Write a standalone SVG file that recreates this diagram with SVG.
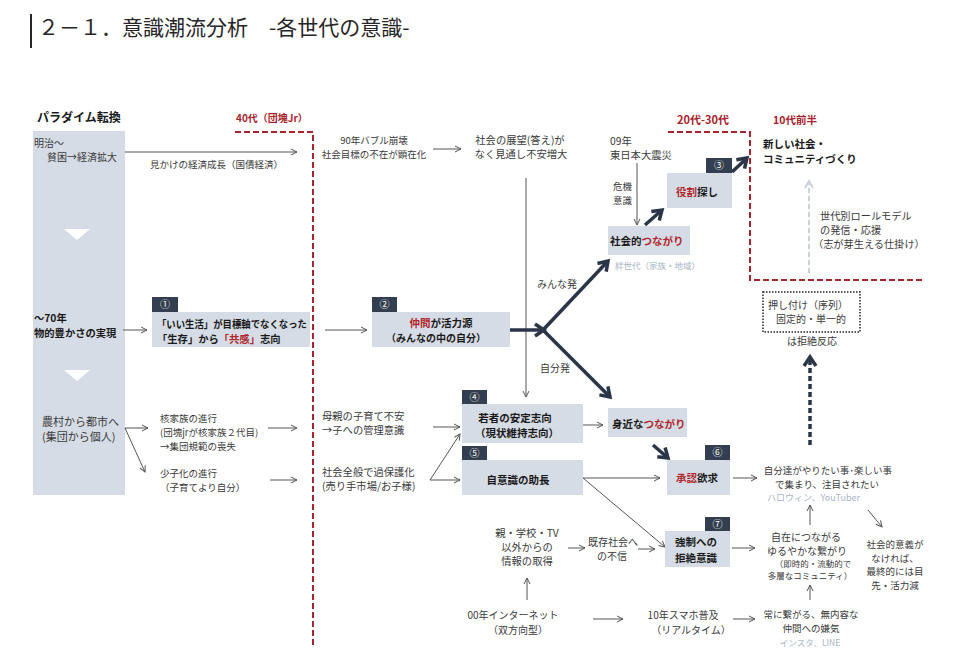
<svg xmlns="http://www.w3.org/2000/svg" width="960" height="655" viewBox="0 0 960 655">
<style>
text{font-family:"Noto Sans CJK JP","Noto Sans",sans-serif;font-size:10px;fill:#3a3a3a}
.b{font-weight:700;fill:#1a1a1a}
.r{fill:#b0282d}
.rh{font-weight:700;fill:#a8232a}
.lt{fill:#a9b5c7;font-size:8.5px}
.m{text-anchor:middle}
.box{fill:#d6dce5}
.tab{fill:#333f50}
.tabt{fill:#fff;font-size:10px;text-anchor:middle}
.ln{stroke:#555;stroke-width:1;fill:none}
.thick{stroke:#2b3548;stroke-width:3.5;fill:none}
.reddash{stroke:#a8232a;stroke-width:2;stroke-dasharray:6 3;fill:none}
</style>
<defs>
<marker id="ah" markerWidth="8" markerHeight="8" refX="7" refY="4" orient="auto" markerUnits="userSpaceOnUse"><path d="M1,1 L7,4 L1,7" fill="none" stroke="#555" stroke-width="1"/></marker>
<marker id="th" markerWidth="16" markerHeight="16" refX="12" refY="8" orient="auto" markerUnits="userSpaceOnUse"><path d="M3,2 L12,8 L3,14" fill="none" stroke="#2b3548" stroke-width="3.5"/></marker>
<marker id="lh" markerWidth="12" markerHeight="12" refX="9" refY="6" orient="auto" markerUnits="userSpaceOnUse"><path d="M2,2 L9,6 L2,10" fill="none" stroke="#ccd2dc" stroke-width="2"/></marker>
</defs>

<g id="title">
<rect x="30" y="14" width="2" height="34" fill="#262626"/>
<text x="38" y="35" style="font-size:21px;fill:#262626">２－１．意識潮流分析　-各世代の意識-</text>
</g>

<g id="generations">
<text x="236" y="122" class="rh" style="font-size:10px">40代（団塊Jr）</text>
<text x="677" y="124" class="rh" style="font-size:11px">20代-30代</text>
<text x="773" y="124" class="rh" style="font-size:10.5px">10代前半</text>
<path class="reddash" d="M235,132 L313,132 L313,645"/>
<path class="reddash" d="M668,132 L750,132 L750,280 L923,280"/>
</g>

<g id="paradigm">
<text x="37" y="122" class="b" style="font-size:12px">パラダイム転換</text>
<rect class="box" x="33" y="131" width="92" height="364"/>
<text x="34" y="147">明治～</text>
<text x="47" y="161">貧困→経済拡大</text>
<polygon points="64,229 90,229 77,240" fill="#fff"/>
<polygon points="64,370 90,370 77,381" fill="#fff"/>
<text x="34" y="322" class="b" style="font-size:10.3px">～70年</text>
<text x="34" y="337" class="b" style="font-size:10.3px">物的豊かさの実現</text>
<text x="42" y="426" style="font-size:11px">農村から都市へ</text>
<text x="42" y="441" style="font-size:11px">(集団から個人)</text>
</g>

<g id="connectors">
<path class="ln" d="M125,152 L297,152" marker-end="url(#ah)"/>
<path class="ln" d="M123,330 L147,330" marker-end="url(#ah)"/>
<path class="ln" d="M325,330 L367,330" marker-end="url(#ah)"/>
<path class="ln" d="M125,428 L148,428" marker-end="url(#ah)"/>
<path class="ln" d="M125,428 L145,472" marker-end="url(#ah)"/>
<path class="ln" d="M268,428 L297,428" marker-end="url(#ah)"/>
<path class="ln" d="M270,480 L297,480" marker-end="url(#ah)"/>
<path class="ln" d="M433,149 L461,149" marker-end="url(#ah)"/>
<path class="ln" d="M526,178 L526,397" marker-end="url(#ah)"/>
<path class="ln" d="M637,163 L637,225" marker-end="url(#ah)"/>
<path class="ln" d="M433,427 L460,427" marker-end="url(#ah)"/>
<path class="ln" d="M430,480 L460,480" marker-end="url(#ah)"/>
<path class="ln" d="M430,480 L460,434" marker-end="url(#ah)"/>
<path class="ln" d="M583,425 L603,425" marker-end="url(#ah)"/>
<path class="ln" d="M583,478 L660,478" marker-end="url(#ah)"/>
<path class="ln" d="M583,478 L665,547" marker-end="url(#ah)"/>
<path class="ln" d="M733,478 L757,478" marker-end="url(#ah)"/>
<path class="ln" d="M810,525 L810,505" marker-end="url(#ah)"/>
<path class="ln" d="M868,510 L882,527" marker-end="url(#ah)"/>
<path class="ln" d="M568,548 L585,548" marker-end="url(#ah)"/>
<path class="ln" d="M638,549 L655,549" marker-end="url(#ah)"/>
<path class="ln" d="M732,548 L755,548" marker-end="url(#ah)"/>
<path class="ln" d="M810,600 L810,585" marker-end="url(#ah)"/>
<path class="ln" d="M527,600 L527,578" marker-end="url(#ah)"/>
<path class="ln" d="M593,619 L623,619" marker-end="url(#ah)"/>
<path class="ln" d="M733,619 L755,619" marker-end="url(#ah)"/>
<path class="thick" d="M510,330 L544,330" marker-end="url(#th)"/>
<path class="thick" d="M543,330 L608,261" marker-end="url(#th)"/>
<path class="thick" d="M543,330 L610,397" marker-end="url(#th)"/>
<path class="thick" d="M645,225 L662,210" marker-end="url(#th)"/>
<path class="thick" d="M732,172 L747,158" marker-end="url(#th)"/>
<path class="thick" d="M653,445 L668,458" marker-end="url(#th)"/>
<path class="thick" d="M810,445 L810,357" stroke-width="3" stroke-dasharray="5 3" marker-end="url(#th)"/>
<path d="M809,273 L809,181" stroke="#ccd2dc" stroke-width="2" stroke-dasharray="5 3" fill="none" marker-end="url(#lh)"/>
</g>

<g id="labels">
<text x="150" y="168" style="font-size:9.5px">見かけの経済成長（国債経済）</text>
<text x="374" y="144" class="m" style="font-size:9.5px">90年バブル崩壊</text>
<text x="374" y="158" class="m" style="font-size:9.5px">社会目標の不在が顕在化</text>
<text x="520" y="144" class="m" style="font-size:10.3px">社会の展望(答え)が</text>
<text x="521" y="158" class="m" style="font-size:10.3px">なく見通し不安増大</text>
<text x="160" y="422" style="font-size:9.5px">核家族の進行</text>
<text x="160" y="436" style="font-size:9.5px">(団塊jrが核家族２代目)</text>
<text x="160" y="450" style="font-size:9.5px">→集団規範の喪失</text>
<text x="160" y="477" style="font-size:9.5px">少子化の進行</text>
<text x="160" y="491" style="font-size:9.5px">（子育てより自分）</text>
<text x="322" y="420" style="font-size:10.3px">母親の子育て不安</text>
<text x="322" y="434" style="font-size:10.3px">→子への管理意識</text>
<text x="322" y="476" style="font-size:10.3px">社会全般で過保護化</text>
<text x="322" y="490" style="font-size:10.3px">(売り手市場/お子様)</text>
<text x="537" y="288">みんな発</text>
<text x="540" y="372">自分発</text>
<text x="610" y="145" style="font-size:10.3px">09年</text>
<text x="610" y="159" style="font-size:10.3px">東日本大震災</text>
<text x="613" y="190" style="font-size:9.5px">危機</text>
<text x="613" y="204" style="font-size:9.5px">意識</text>
<text x="615" y="269" class="lt">絆世代（家族・地域）</text>
<text x="763" y="148" class="b" style="font-size:10.5px">新しい社会・</text>
<text x="763" y="163" class="b" style="font-size:10.5px">コミュニティづくり</text>
<text x="820" y="220" style="font-size:10.2px">世代別ロールモデル</text>
<text x="820" y="234" style="font-size:10.2px">の発信・応援</text>
<text x="813" y="248" style="font-size:10.2px">（志が芽生える仕掛け）</text>
<text x="812" y="345" class="m">は拒絶反応</text>
<text x="828" y="474" class="m" style="font-size:9.5px">自分達がやりたい事･楽しい事</text>
<text x="827" y="488" class="m" style="font-size:9.5px">で集まり、注目されたい</text>
<text x="767" y="501" class="lt" style="font-size:9px">ハロウィン、YouTuber</text>
<text x="527" y="537" class="m" style="font-size:10.3px">親・学校・TV</text>
<text x="527" y="551" class="m" style="font-size:10.3px">以外からの</text>
<text x="527" y="565" class="m" style="font-size:10.3px">情報の取得</text>
<text x="613" y="546" class="m">既存社会へ</text>
<text x="612" y="560" class="m">の不信</text>
<text x="806" y="541" class="m">自在につながる</text>
<text x="807" y="555" class="m">ゆるやかな繋がり</text>
<text x="813" y="567" class="m" style="font-size:8.5px">（即時的・流動的で</text>
<text x="810" y="579" class="m" style="font-size:8.5px">多層なコミュニティ）</text>
<text x="895" y="548" class="m" style="font-size:9.5px">社会的意義が</text>
<text x="895" y="562" class="m" style="font-size:9.5px">なければ、</text>
<text x="895" y="575" class="m" style="font-size:9.5px">最終的には目</text>
<text x="895" y="589" class="m" style="font-size:9.5px">先・活力減</text>
<text x="513" y="619" class="m">00年インターネット</text>
<text x="518" y="634" class="m">（双方向型）</text>
<text x="683" y="619" class="m">10年スマホ普及</text>
<text x="691" y="634" class="m">（リアルタイム）</text>
<text x="811" y="618" class="m" style="font-size:9.5px">常に繋がる、無内容な</text>
<text x="811" y="632" class="m" style="font-size:9.5px">仲間への嫌気</text>
<text x="810" y="646" class="m lt" style="font-size:8.5px">インスタ、LINE</text>
</g>

<g id="node1">
<rect class="tab" x="152" y="297" width="26" height="15"/>
<text class="tabt" x="165" y="308">①</text>
<rect class="box" x="152" y="312" width="158" height="35"/>
<text x="157" y="328" class="b" style="font-size:10.3px" textLength="150" lengthAdjust="spacingAndGlyphs">「いい生活」が目標軸でなくなった</text>
<text x="157" y="343" class="b" style="font-size:10.3px">「生存」から<tspan class="r">「共感」</tspan>志向</text>
</g>

<g id="node2">
<rect class="tab" x="372" y="297" width="25" height="15"/>
<text class="tabt" x="384.5" y="308">②</text>
<rect class="box" x="372" y="312" width="138" height="35"/>
<text x="441" y="327" class="b m" style="font-size:10.5px"><tspan class="r">仲間</tspan>が活力源</text>
<text x="436" y="342" class="b m" style="font-size:10px">（みんなの中の自分）</text>
</g>

<g id="node3">
<rect class="tab" x="706" y="158" width="26" height="15"/>
<text class="tabt" x="719" y="169">③</text>
<rect class="box" x="667" y="173" width="65" height="35"/>
<text x="697" y="196" class="b m" style="font-size:10.5px"><tspan class="r">役割</tspan>探し</text>
</g>

<g id="social">
<rect class="box" x="608" y="226" width="82" height="29"/>
<text x="610" y="245" class="b" style="font-size:10.5px">社会的<tspan class="r">つながり</tspan></text>
</g>

<g id="node4">
<rect class="tab" x="462" y="390" width="25" height="14"/>
<text class="tabt" x="474.5" y="401">④</text>
<rect class="box" x="462" y="404" width="121" height="39"/>
<text x="515" y="422" class="b m" style="font-size:10.5px">若者の安定志向</text>
<text x="517" y="437" class="b m" style="font-size:10.5px">（現状維持志向）</text>
</g>

<g id="node5">
<rect class="tab" x="462" y="446" width="25" height="14"/>
<text class="tabt" x="474.5" y="457">⑤</text>
<rect class="box" x="462" y="460" width="121" height="35"/>
<text x="518" y="484" class="b m" style="font-size:10.5px">自意識の助長</text>
</g>

<g id="close">
<rect class="box" x="608" y="408" width="79" height="29"/>
<text x="612" y="428" class="b" style="font-size:10.5px">身近な<tspan class="r">つながり</tspan></text>
</g>

<g id="node6">
<rect class="tab" x="705" y="445" width="25" height="15"/>
<text class="tabt" x="717.5" y="456">⑥</text>
<rect class="box" x="667" y="460" width="63" height="35"/>
<text x="697" y="482" class="b m" style="font-size:10.5px"><tspan class="r">承認</tspan>欲求</text>
</g>

<g id="node7">
<rect class="tab" x="705" y="517" width="25" height="14"/>
<text class="tabt" x="717.5" y="528">⑦</text>
<rect class="box" x="665" y="531" width="65" height="36"/>
<text x="675" y="546" class="b" style="font-size:10.5px">強制への</text>
<text x="675" y="562" class="b" style="font-size:10.5px">拒絶意識</text>
</g>

<g id="reject">
<rect x="763" y="292" width="97" height="40" fill="none" stroke="#222" stroke-width="1.5" stroke-dasharray="1.5 1.5"/>
<text x="808" y="309" class="m">押し付け（序列）</text>
<text x="811" y="323" class="m">固定的・単一的</text>
</g>
</svg>
